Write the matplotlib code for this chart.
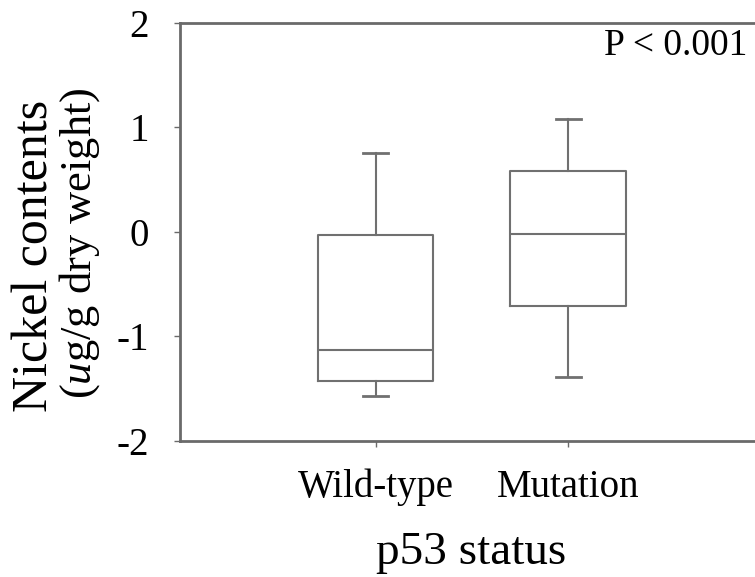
import matplotlib
matplotlib.use("Agg")
import matplotlib.pyplot as plt

categories = ["Wild-type", "Mutation"]
whis_low = [-1.57, -1.388]
q1 = [-1.426, -0.711]
median = [-1.13, -0.022]
q3 = [-0.034, 0.578]
whis_high = [0.75, 1.076]
yticks = [-2, -1, 0, 1, 2]

plt.rcParams['font.family'] = ['Liberation Serif', 'DejaVu Serif']
plt.rcParams['mathtext.fontset'] = 'custom'
plt.rcParams['mathtext.rm'] = 'Liberation Serif'
plt.rcParams['mathtext.it'] = 'Liberation Serif:italic'

W, H = 755, 577
fig = plt.figure(figsize=(W/100, H/100), dpi=100)
ax = fig.add_axes([179.5/W, 1-441/H, (W-179.5)/W, (441-22.7)/H])

stats = []
for i, c in enumerate(categories):
    stats.append(dict(label=c, whislo=whis_low[i], q1=q1[i], med=median[i],
                      q3=q3[i], whishi=whis_high[i], fliers=[]))

col = '#707070'
ax.bxp(stats, positions=[1, 2], widths=0.6, capwidths=0.13, showfliers=False,
       boxprops=dict(color=col, linewidth=1.5),
       whiskerprops=dict(color=col, linewidth=1.5),
       capprops=dict(color=col, linewidth=2),
       medianprops=dict(color=col, linewidth=1.5))

ax.set_ylim(-2, 2)
ax.set_xlim(-0.0187, 2.97)
ax.set_yticks(yticks)
ax.set_yticklabels([str(t) for t in yticks])
ax.set_xticks([1, 2])
ax.set_xticklabels(categories)

for s in ['left', 'bottom', 'top']:
    ax.spines[s].set_color('#6a6a6a')
    ax.spines[s].set_linewidth(2)
ax.spines['right'].set_visible(False)
ax.tick_params(axis='both', direction='out', length=4, width=1, color='#6a6a6a',
               labelsize=28, labelcolor='black')
ax.tick_params(axis='y', pad=18)
ax.tick_params(axis='x', pad=16)

fig.text(471/W, 1-553/H, "p53 status", fontsize=34, ha='center', va='center')
fig.text(35/W, 1-256/H, "Nickel contents", fontsize=36, rotation=90,
         ha='center', va='center')
fig.text(80/W, 1-243/H, "($\\mathit{u}$g/g dry weight)", fontsize=32, rotation=90,
         ha='center', va='center')
fig.text(747/W, 1-46/H, "P < 0.001", fontsize=27, ha='right', va='center')

fig.savefig("out.png", dpi=100)
